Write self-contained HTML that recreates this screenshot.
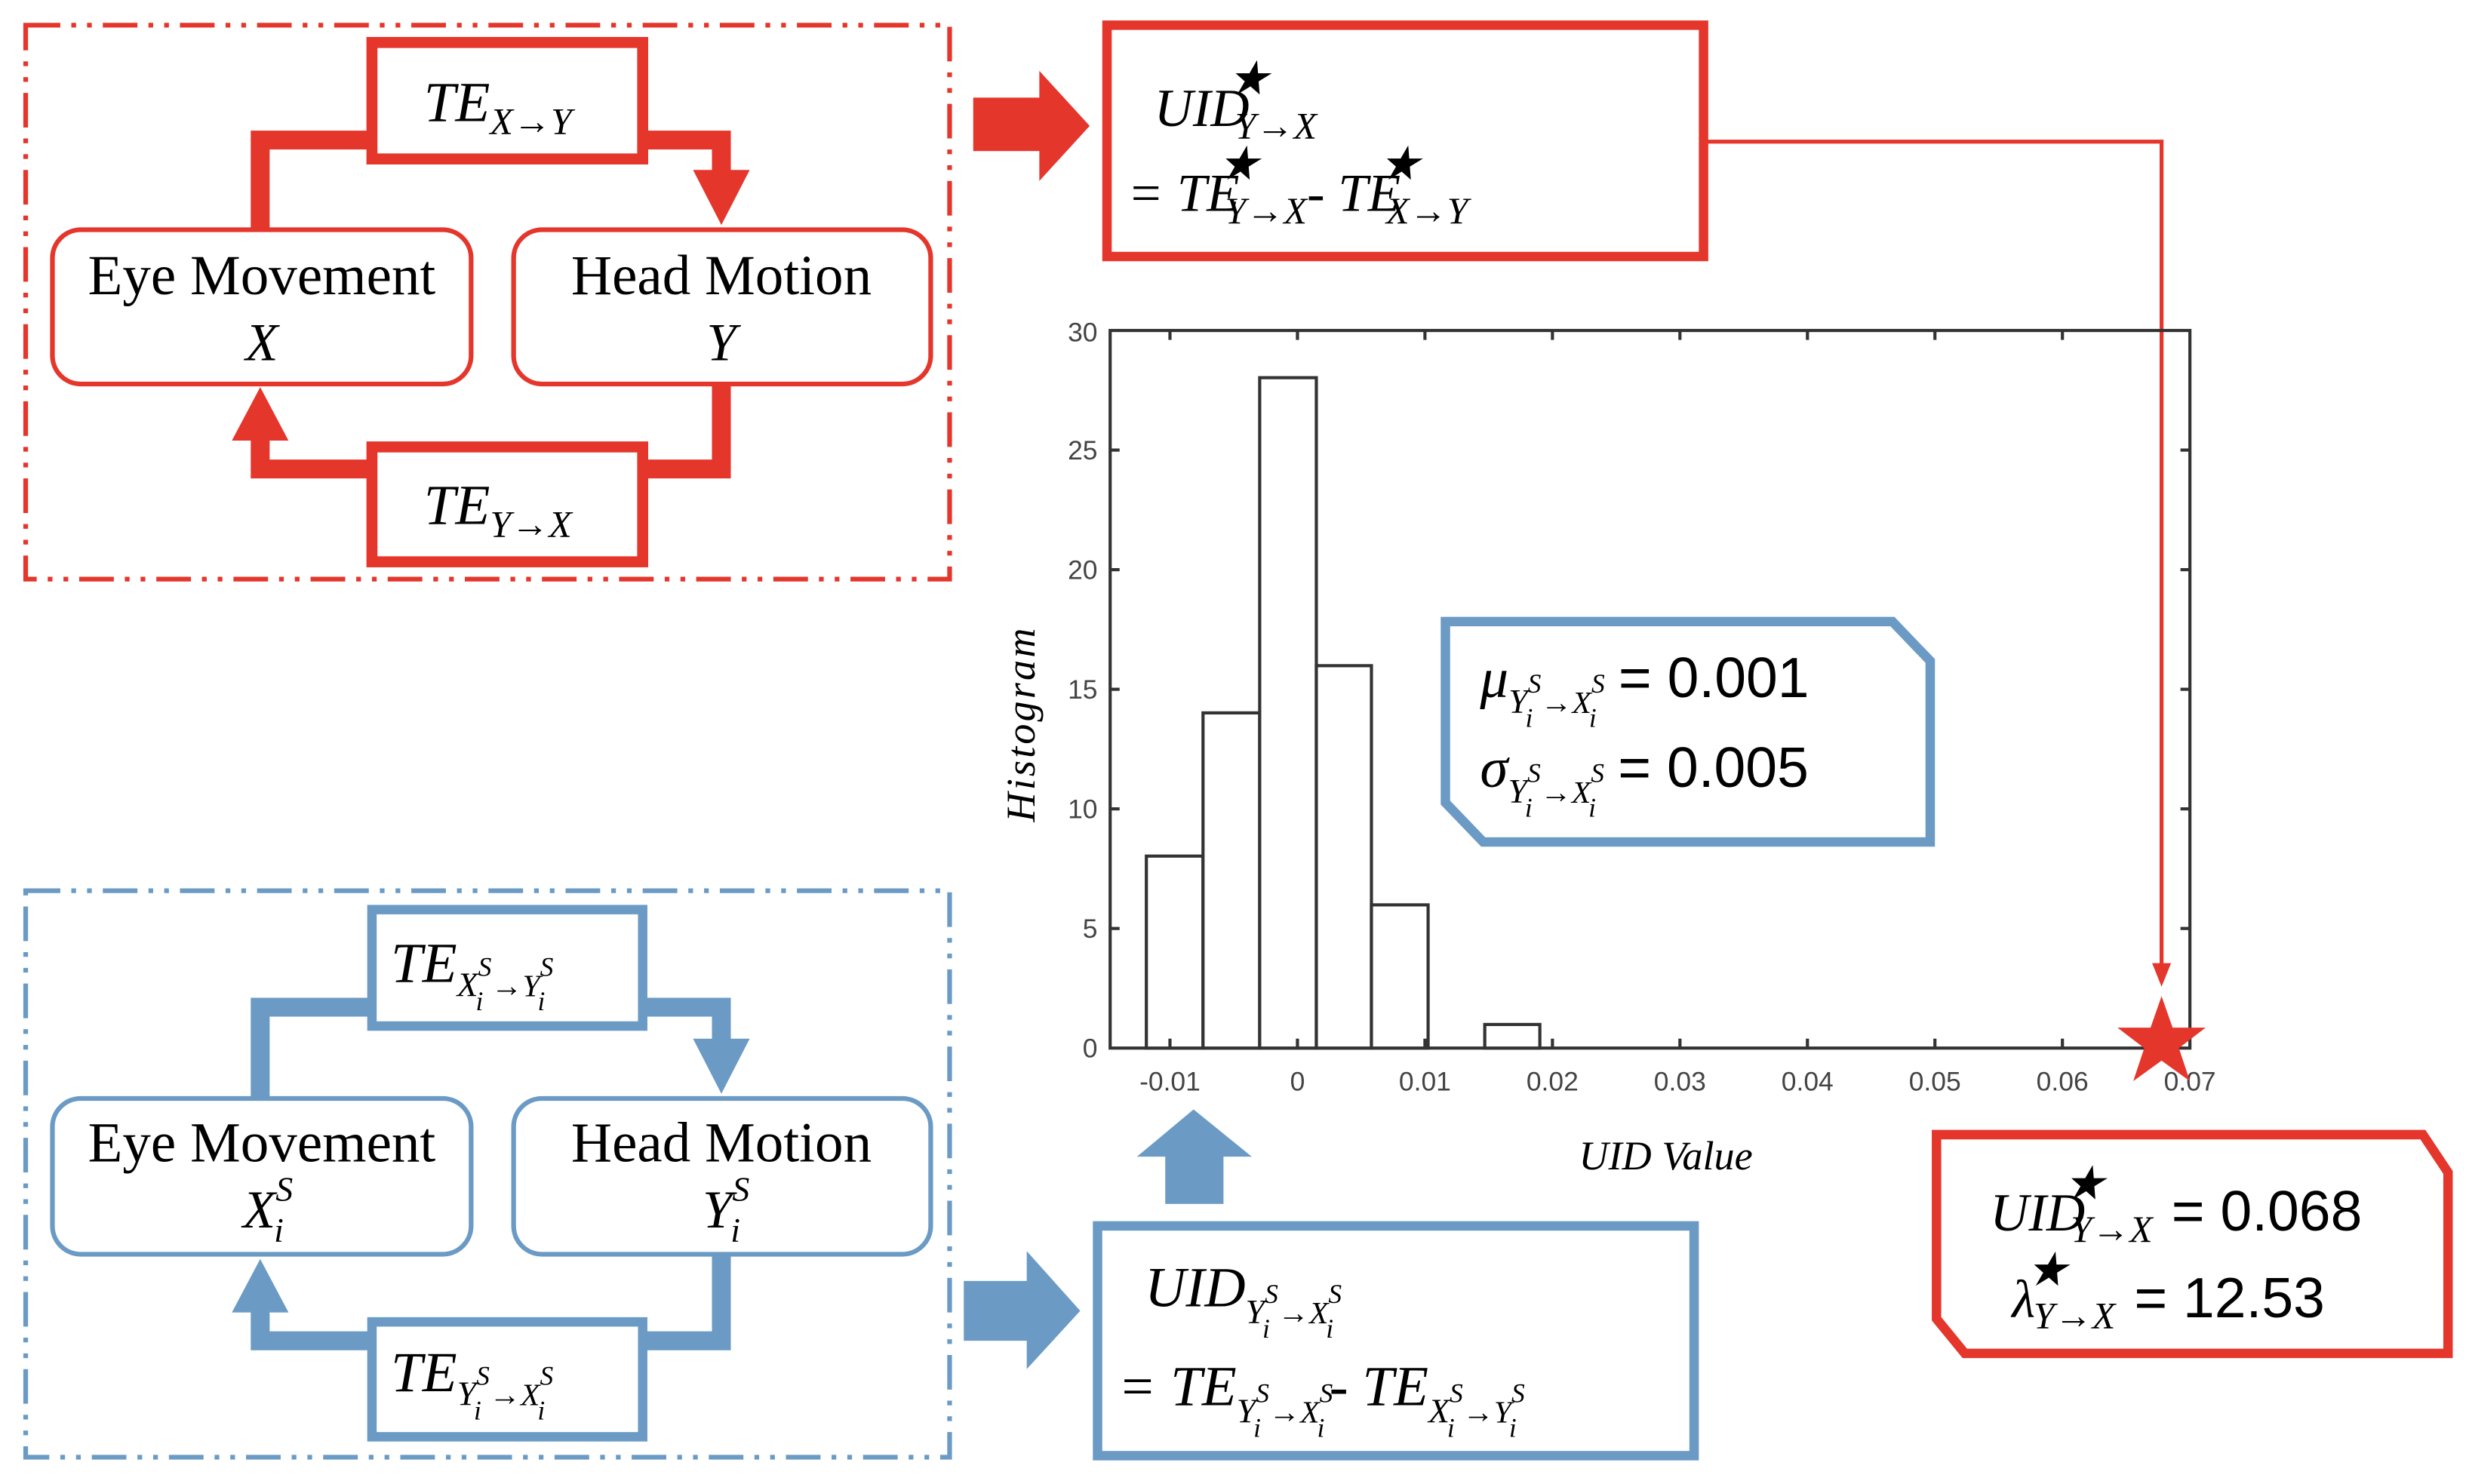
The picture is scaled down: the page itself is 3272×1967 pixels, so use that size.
<!DOCTYPE html>
<html><head><meta charset="utf-8"><style>
html,body{margin:0;padding:0;background:#fff;}
svg{display:block;}
.s{font-family:"Liberation Serif",serif;}
.i{font-family:"Liberation Serif",serif;font-style:italic;}
.a{font-family:"Liberation Sans",sans-serif;}
</style></head><body>
<svg width="3272" height="1967" viewBox="0 0 1568 943" xmlns="http://www.w3.org/2000/svg">
<rect width="1568" height="943" fill="#fff"/>
<!-- RED TOP GROUP -->
<g stroke="#e5362c" fill="none">
<rect x="16" y="16" width="587" height="352" stroke-width="3" stroke-dasharray="22,7,3,7,3,7"/>
<rect x="236" y="27" width="172" height="74" stroke-width="7" fill="#fff"/>
<rect x="33" y="146" width="266" height="98" rx="18" stroke-width="3" fill="#fff"/>
<rect x="326" y="146" width="265" height="98" rx="18" stroke-width="3" fill="#fff"/>
<rect x="236" y="284" width="172" height="73" stroke-width="7" fill="#fff"/>
<polyline points="165,146 165,89 236,89" stroke-width="12"/>
<polyline points="408,89 458,89 458,110" stroke-width="12"/>
<polyline points="458,244 458,298 408,298" stroke-width="12"/>
<polyline points="236,298 165,298 165,275" stroke-width="12"/>
</g>
<polygon points="440,108 476,108 458,143" fill="#e5362c"/>
<polygon points="147,280 183,280 165,246" fill="#e5362c"/>
<text class="i" x="316" y="77" font-size="36" text-anchor="middle">TE<tspan font-size="24" dy="8">X→Y</tspan></text>
<text class="i" x="316" y="333" font-size="36" text-anchor="middle">TE<tspan font-size="24" dy="8">Y→X</tspan></text>
<text class="s" x="166" y="187" font-size="36" text-anchor="middle">Eye Movement</text>
<text class="i" x="166" y="229" font-size="34" text-anchor="middle">X</text>
<text class="s" x="458" y="187" font-size="36" text-anchor="middle">Head Motion</text>
<text class="i" x="458" y="229" font-size="34" text-anchor="middle">Y</text>
<!-- red big arrow -->
<polygon points="618,62 660,62 660,45 692,80 660,115 660,96 618,96" fill="#e5362c"/>
<!-- red UID box -->
<rect x="703" y="16" width="379" height="147" fill="#fff" stroke="#e5362c" stroke-width="6"/>
<text class="i" x="733" y="80" font-size="34">UID<tspan font-size="30" dy="-20" dx="-14">★</tspan><tspan font-size="24" dy="28" dx="-22">Y→X</tspan></text>
<text class="i" x="716" y="134" font-size="34">= TE<tspan font-size="30" dy="-20" dx="-14">★</tspan><tspan font-size="24" dy="28" dx="-22">Y→X</tspan><tspan dy="-8">- TE</tspan><tspan font-size="30" dy="-20" dx="-14">★</tspan><tspan font-size="24" dy="28" dx="-22">X→Y</tspan></text>
<!-- red thin connector -->
<polyline points="1083,90 1373,90 1373,615" fill="none" stroke="#e5362c" stroke-width="2.5"/>
<polygon points="1367,612 1379,612 1373,627" fill="#e5362c"/>
<!-- CHART -->
<g stroke="#333" stroke-width="2" fill="none">
<rect x="705" y="210" width="686" height="456"/>
<rect x="728" y="544" width="36" height="122" fill="#fff"/>
<rect x="764" y="453" width="36" height="213" fill="#fff"/>
<rect x="800" y="240" width="36" height="426" fill="#fff"/>
<rect x="836" y="423" width="35" height="243" fill="#fff"/>
<rect x="871" y="575" width="36" height="91" fill="#fff"/>
<rect x="943" y="651" width="35" height="15" fill="#fff"/>
</g>
<g stroke="#333" stroke-width="2">
<line x1="705" y1="590" x2="711" y2="590"/><line x1="705" y1="514" x2="711" y2="514"/><line x1="705" y1="438" x2="711" y2="438"/><line x1="705" y1="362" x2="711" y2="362"/><line x1="705" y1="286" x2="711" y2="286"/>
<line x1="1385" y1="590" x2="1391" y2="590"/><line x1="1385" y1="514" x2="1391" y2="514"/><line x1="1385" y1="438" x2="1391" y2="438"/><line x1="1385" y1="362" x2="1391" y2="362"/><line x1="1385" y1="286" x2="1391" y2="286"/>
<line x1="743" y1="660" x2="743" y2="666"/><line x1="824" y1="660" x2="824" y2="666"/><line x1="905" y1="660" x2="905" y2="666"/><line x1="986" y1="660" x2="986" y2="666"/><line x1="1067" y1="660" x2="1067" y2="666"/><line x1="1148" y1="660" x2="1148" y2="666"/><line x1="1229" y1="660" x2="1229" y2="666"/><line x1="1310" y1="660" x2="1310" y2="666"/>
<line x1="743" y1="210" x2="743" y2="216"/><line x1="824" y1="210" x2="824" y2="216"/><line x1="905" y1="210" x2="905" y2="216"/><line x1="986" y1="210" x2="986" y2="216"/><line x1="1067" y1="210" x2="1067" y2="216"/><line x1="1148" y1="210" x2="1148" y2="216"/><line x1="1229" y1="210" x2="1229" y2="216"/><line x1="1310" y1="210" x2="1310" y2="216"/>
</g>
<g class="a" font-size="17" fill="#444" text-anchor="end">
<text x="697" y="672">0</text><text x="697" y="596">5</text><text x="697" y="520">10</text><text x="697" y="444">15</text><text x="697" y="368">20</text><text x="697" y="292">25</text><text x="697" y="217">30</text>
</g>
<g class="a" font-size="17" fill="#444" text-anchor="middle">
<text x="743" y="693">-0.01</text><text x="824" y="693">0</text><text x="905" y="693">0.01</text><text x="986" y="693">0.02</text><text x="1067" y="693">0.03</text><text x="1148" y="693">0.04</text><text x="1229" y="693">0.05</text><text x="1310" y="693">0.06</text><text x="1391" y="693">0.07</text>
</g>
<text class="i" font-size="26" text-anchor="middle" transform="translate(657,460) rotate(-90)" letter-spacing="1.5">Histogram</text>
<text class="i" x="1058" y="743" font-size="26" text-anchor="middle">UID Value</text>
<polygon points="1373,633 1380,653 1401,653 1384,666 1391,687 1373,674 1355,687 1362,666 1345,653 1366,653" fill="#e5362c"/>
<!-- stats box -->
<polygon points="918,395 1202,395 1226,420 1226,535 942,535 918,510" fill="#fff" stroke="#6b9bc5" stroke-width="6"/>
<text class="i" x="940" y="443" font-size="36">μ<tspan font-size="22" dy="10">Y</tspan><tspan font-size="17" dy="-13">S</tspan><tspan font-size="17" dy="22" dx="-10">i</tspan><tspan font-size="20" dy="-9" dx="5">→X</tspan><tspan font-size="17" dy="-13">S</tspan><tspan font-size="17" dy="22" dx="-10">i</tspan><tspan class="a" font-style="normal" font-size="36" dy="-19" dx="14">= 0.001</tspan></text>
<text class="i" x="940" y="500" font-size="36">σ<tspan font-size="22" dy="10">Y</tspan><tspan font-size="17" dy="-13">S</tspan><tspan font-size="17" dy="22" dx="-10">i</tspan><tspan font-size="20" dy="-9" dx="5">→X</tspan><tspan font-size="17" dy="-13">S</tspan><tspan font-size="17" dy="22" dx="-10">i</tspan><tspan class="a" font-style="normal" font-size="36" dy="-19" dx="14">= 0.005</tspan></text>
<!-- red result box -->
<polygon points="1230,721 1539,721 1555,745 1555,860 1248,860 1230,838" fill="#fff" stroke="#e5362c" stroke-width="6"/>
<text class="i" x="1264" y="782" font-size="34">UID<tspan font-size="30" dy="-20" dx="-14">★</tspan><tspan font-size="24" dy="27" dx="-22">Y→X</tspan><tspan class="a" font-style="normal" font-size="36" dy="-7" dx="12">= 0.068</tspan></text>
<text class="i" x="1278" y="837" font-size="34">λ<tspan font-size="30" dy="-20" dx="-6">★</tspan><tspan font-size="24" dy="27" dx="-22">Y→X</tspan><tspan class="a" font-style="normal" font-size="36" dy="-7" dx="12">= 12.53</tspan></text>
<!-- BLUE BOTTOM GROUP -->
<g stroke="#6b9bc5" fill="none">
<rect x="16" y="566" width="587" height="360" stroke-width="3" stroke-dasharray="22,7,3,7,3,7"/>
<rect x="236" y="578" width="172" height="74" stroke-width="6" fill="#fff"/>
<rect x="33" y="698" width="266" height="99" rx="18" stroke-width="3" fill="#fff"/>
<rect x="326" y="698" width="265" height="99" rx="18" stroke-width="3" fill="#fff"/>
<rect x="236" y="840" width="172" height="73" stroke-width="6" fill="#fff"/>
<polyline points="165,698 165,640 236,640" stroke-width="12"/>
<polyline points="408,640 458,640 458,662" stroke-width="12"/>
<polyline points="458,797 458,852 408,852" stroke-width="12"/>
<polyline points="236,852 165,852 165,830" stroke-width="12"/>
</g>
<polygon points="440,660 476,660 458,695" fill="#6b9bc5"/>
<polygon points="147,834 183,834 165,800" fill="#6b9bc5"/>
<text class="i" x="248" y="624" font-size="36">TE<tspan font-size="22" dy="9">X</tspan><tspan font-size="17" dy="-13">S</tspan><tspan font-size="17" dy="22" dx="-10">i</tspan><tspan font-size="20" dy="-9" dx="5">→Y</tspan><tspan font-size="17" dy="-13">S</tspan><tspan font-size="17" dy="22" dx="-10">i</tspan></text>
<text class="i" x="248" y="884" font-size="36">TE<tspan font-size="22" dy="9">Y</tspan><tspan font-size="17" dy="-13">S</tspan><tspan font-size="17" dy="22" dx="-10">i</tspan><tspan font-size="20" dy="-9" dx="5">→X</tspan><tspan font-size="17" dy="-13">S</tspan><tspan font-size="17" dy="22" dx="-10">i</tspan></text>
<text class="s" x="166" y="738" font-size="36" text-anchor="middle">Eye Movement</text>
<text class="i" x="154" y="780" font-size="34">X<tspan font-size="22" dy="-17">S</tspan><tspan font-size="22" dy="26" dx="-12">i</tspan></text>
<text class="s" x="458" y="738" font-size="36" text-anchor="middle">Head Motion</text>
<text class="i" x="446" y="780" font-size="34">Y<tspan font-size="22" dy="-17">S</tspan><tspan font-size="22" dy="26" dx="-12">i</tspan></text>
<!-- blue arrows -->
<polygon points="612,814 652,814 652,795 686,833 652,870 652,852 612,852" fill="#6b9bc5"/>
<polygon points="740,765 777,765 777,735 795,735 758,705 722,735 740,735" fill="#6b9bc5"/>
<!-- blue UID box -->
<rect x="697" y="779" width="379" height="146" fill="#fff" stroke="#6b9bc5" stroke-width="6"/>
<text class="i" x="727" y="830" font-size="36">UID<tspan font-size="22" dy="11">Y</tspan><tspan font-size="17" dy="-13">S</tspan><tspan font-size="17" dy="22" dx="-10">i</tspan><tspan font-size="20" dy="-9" dx="5">→X</tspan><tspan font-size="17" dy="-13">S</tspan><tspan font-size="17" dy="22" dx="-10">i</tspan></text>
<text class="i" x="710" y="893" font-size="36">= TE<tspan font-size="22" dy="11">Y</tspan><tspan font-size="17" dy="-13">S</tspan><tspan font-size="17" dy="22" dx="-10">i</tspan><tspan font-size="20" dy="-9" dx="5">→X</tspan><tspan font-size="17" dy="-13">S</tspan><tspan font-size="17" dy="22" dx="-10">i</tspan><tspan font-size="36" dy="-20" dx="3">- TE</tspan><tspan font-size="22" dy="11">X</tspan><tspan font-size="17" dy="-13">S</tspan><tspan font-size="17" dy="22" dx="-10">i</tspan><tspan font-size="20" dy="-9" dx="5">→Y</tspan><tspan font-size="17" dy="-13">S</tspan><tspan font-size="17" dy="22" dx="-10">i</tspan></text>
</svg>
</body></html>
